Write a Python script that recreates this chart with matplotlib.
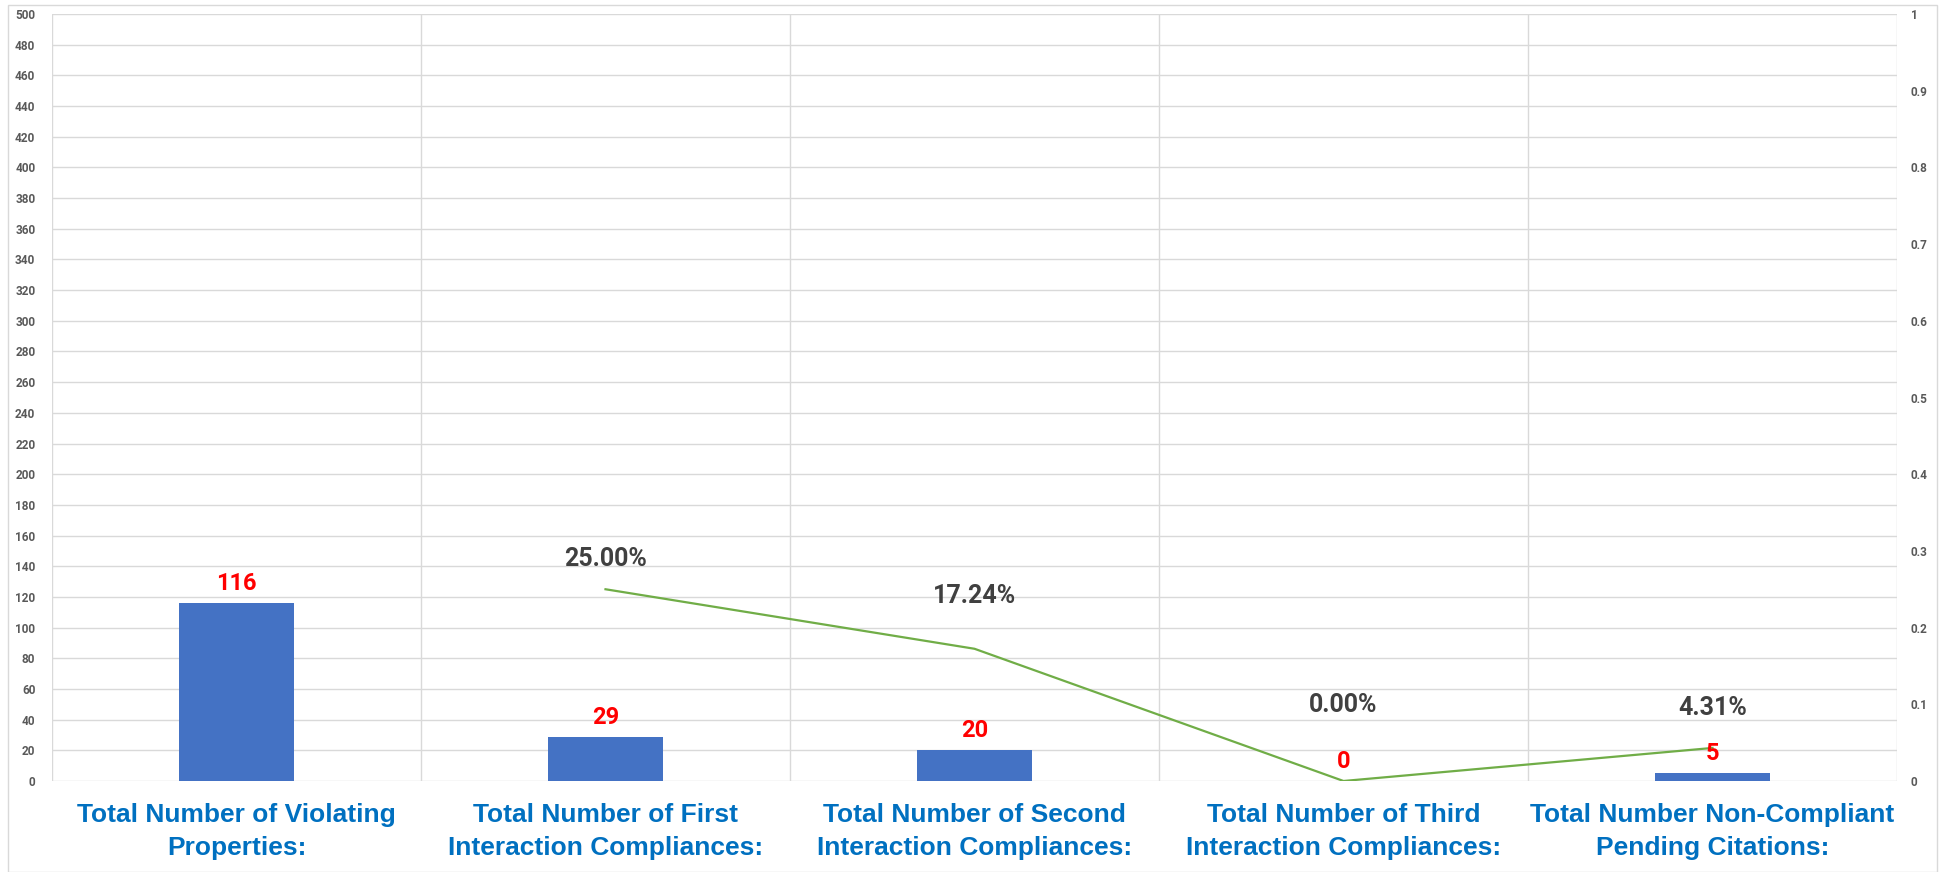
import matplotlib
matplotlib.use("Agg")
from matplotlib import pyplot as plt
from matplotlib.ticker import FuncFormatter, MultipleLocator
from matplotlib.patches import Rectangle

# data
categories = [
    "Total Number of Violating\nProperties:",
    "Total Number of First\nInteraction Compliances:",
    "Total Number of Second\nInteraction Compliances:",
    "Total Number of Third\nInteraction Compliances:",
    "Total Number Non-Compliant\nPending Citations:",
]
counts = [116, 29, 20, 0, 5]
rates = [None, 0.25, 0.1724, 0.0, 0.0431]

# label offsets (points above the line point)
rate_label_offsets = [0, 22, 38, 55, 29]

BAR = "#4472C4"
LINE = "#70AD47"
GRID = "#D9D9D9"
TICK = "#595959"
num_font = ["Roboto", "DejaVu Sans"]
cat_font = ["Liberation Sans Narrow", "Liberation Sans", "DejaVu Sans"]

fig = plt.figure(figsize=(19.44, 8.72), dpi=100)
fig.patches.append(Rectangle((8 / 1944, 0), 1929 / 1944, 1 - 5 / 872, transform=fig.transFigure,
                             fill=False, edgecolor=GRID, linewidth=1))

ax = fig.add_axes([52 / 1944, 1 - 781 / 872, 1845 / 1944, 767 / 872])
x = list(range(len(categories)))
ax.bar(x, counts, width=0.314, color=BAR, zorder=2)
ax.set_xlim(-0.5, len(categories) - 0.5)
ax.set_ylim(0, 500)
ax.yaxis.set_major_locator(MultipleLocator(20))
ax.grid(axis="y", color=GRID, linewidth=1, zorder=0)
for b in [i - 0.5 for i in range(len(categories) + 1)]:
    ax.axvline(b, color=GRID, linewidth=1, zorder=0)
for s in ax.spines.values():
    s.set_visible(False)
ax.tick_params(axis="both", length=0)
ax.tick_params(axis="y", pad=12)
ax.set_xticks(x)
ax.set_xticklabels(categories, fontsize=19, fontweight="bold", color="#0070C0",
                   family=cat_font, linespacing=1.45)
ax.tick_params(axis="x", pad=16)
for t in ax.get_yticklabels():
    t.set_fontsize(8.5)
    t.set_fontweight("bold")
    t.set_color(TICK)
    t.set_family(num_font)

ax2 = ax.twinx()
ax2.set_ylim(0, 1)
ax2.yaxis.set_major_locator(MultipleLocator(0.1))
ax2.yaxis.set_major_formatter(FuncFormatter(lambda v, p: "%g" % round(v, 2)))
for s in ax2.spines.values():
    s.set_visible(False)
ax2.tick_params(axis="y", length=0, pad=10)
for t in ax2.get_yticklabels():
    t.set_fontsize(8.5)
    t.set_fontweight("bold")
    t.set_color(TICK)
    t.set_family(num_font)

lx = [i for i, r in zip(x, rates) if r is not None]
ly = [r for r in rates if r is not None]
ax2.plot(lx, ly, color=LINE, linewidth=1.6, zorder=3)

for i, r in enumerate(rates):
    if r is None:
        continue
    ax2.annotate(f"{r:.2%}", (i, r), xytext=(0, rate_label_offsets[i]), textcoords="offset points",
                 ha="center", va="center", fontsize=18, fontweight="bold", color="#404040",
                 family=num_font, zorder=4)

for i, c in enumerate(counts):
    ax2.annotate(str(c), (i, c), xycoords=ax.transData, xytext=(0, 14), textcoords="offset points",
                 ha="center", va="center", fontsize=17, fontweight="bold", color="#FF0000",
                 family=num_font, zorder=5)

plt.savefig("out.png", dpi=100)
